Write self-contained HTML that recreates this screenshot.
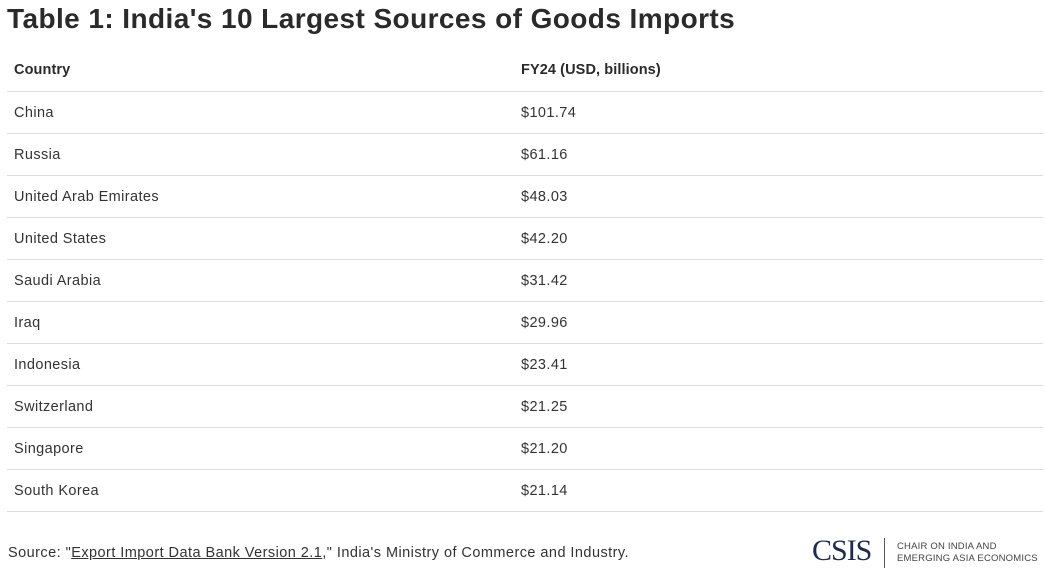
<!DOCTYPE html>
<html><head><meta charset="utf-8">
<style>
html,body{margin:0;padding:0;background:#fff;}
body{width:1046px;height:585px;position:relative;overflow:hidden;font-family:"Liberation Sans",sans-serif;color:#333;}
.abs{position:absolute;white-space:nowrap;}
#title{left:7px;top:3px;font-size:28px;font-weight:bold;color:#2a2a2a;letter-spacing:0.42px;}
.cell{font-size:14.5px;color:#333;line-height:18px;letter-spacing:0.4px;}
.hdr{font-weight:bold;color:#2a2a2a;font-size:14.5px;line-height:18px;letter-spacing:0.1px;}
.line{position:absolute;left:7px;width:1036px;height:1px;background:#dcdcdc;}
#source{left:8px;top:545px;font-size:14.5px;color:#333;letter-spacing:0.45px;}
#source u{text-decoration:underline;}
#logo{left:812px;top:534px;font-family:"Liberation Serif",serif;font-size:30px;color:#1f2a4d;letter-spacing:-1px;}
#logo-bar{left:884px;top:538px;width:1px;height:30px;background:#555;}
#logo-sub{left:897px;top:541px;font-size:9.5px;line-height:12px;color:#444;letter-spacing:0.2px;}
</style></head>
<body>
<div id="title" class="abs">Table 1: India's 10 Largest Sources of Goods Imports</div>
<div class="abs hdr" style="left:14px;top:61px">Country</div>
<div class="abs hdr" style="left:521px;top:61px">FY24 (USD, billions)</div>
<div class="line" style="top:91px"></div>
<div id="rows"></div>
<div id="source" class="abs">Source: "<u>Export Import Data Bank Version 2.1</u>," India's Ministry of Commerce and Industry.</div>
<div id="logo" class="abs">CSIS</div>
<div id="logo-bar" class="abs"></div>
<div id="logo-sub" class="abs">CHAIR ON INDIA AND<br>EMERGING ASIA ECONOMICS</div>
<script>
const countries=["China","Russia","United Arab Emirates","United States","Saudi Arabia","Iraq","Indonesia","Switzerland","Singapore","South Korea"];
const values=[101.74,61.16,48.03,42.20,31.42,29.96,23.41,21.25,21.20,21.14];
const rows=document.getElementById('rows');
countries.forEach((c,i)=>{
  const top=91+i*42;
  const a=document.createElement('div');
  a.className='abs cell';a.style.left='14px';a.style.top=(top+13)+'px';a.textContent=c;
  
  
  rows.appendChild(a);
  const b=document.createElement('div');
  b.className='abs cell';b.style.left='521px';b.style.top=(top+13)+'px';b.textContent='$'+values[i].toFixed(2);
  
  
  rows.appendChild(b);
  const l=document.createElement('div');
  l.className='line';l.style.top=(top+42)+'px';
  
  
  rows.appendChild(l);
});
</script>
</body></html>
